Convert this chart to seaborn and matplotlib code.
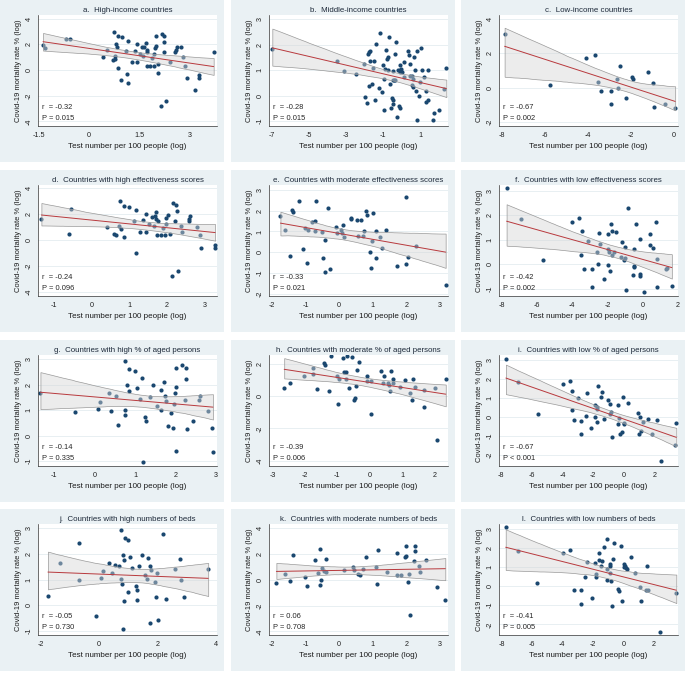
import numpy as np
import seaborn as sns
import matplotlib.pyplot as plt
from matplotlib.patches import Rectangle
from matplotlib.ticker import FormatStrFormatter

# Datos: x = pruebas por 100 personas (log), y = mortalidad % (log)
a_x = [-1.38, -1.33, -0.70, -0.56, 0.40, 0.52, 0.75, 0.72, 0.77, 0.77, 0.80, 0.84, 0.86, 0.87, 0.95,
       0.99, 1.10, 1.12, 1.17, 1.17, 1.27, 1.36, 1.43, 1.44, 1.52, 1.57, 1.62, 1.64, 1.70, 1.72, 1.74,
       1.72, 1.82, 1.89, 1.94, 1.95, 1.97, 2.00, 2.00, 2.05, 2.07, 2.14, 2.17, 2.25, 2.25, 2.25, 2.30,
       2.42, 2.57, 2.62, 2.60, 2.74, 2.79, 2.87, 2.92, 3.15, 3.27, 3.29, 3.72]
a_y = [1.95, 1.69, 2.44, 2.39, 0.99, 1.56, 2.94, 0.78, 1.09, 0.83, 2.03, 1.82, 2.65, 0.18, -0.81,
       2.55, 1.51, -0.31, 2.29, -1.04, 0.62, 1.51, 0.62, 2.00, 1.22, 1.82, 1.09, 1.82, 2.13, 1.56, 1.38,
       0.36, 0.36, 0.91, 0.36, 1.25, 1.74, 1.90, 2.70, -0.21, 0.47, -2.81, 2.81, 2.65, 2.23, 1.43, -2.42,
       0.62, 1.43, 1.82, 1.56, 1.82, 0.99, 0.34, -0.60, -1.56, -0.60, -0.39, 1.38]

b_x = [-7.00, -3.49, -3.13, -2.50, -2.03, -2.01, -1.86, -1.83, -1.77, -1.74, -1.77, -1.74, -1.59, -1.56,
       -1.50, -1.41, -1.43, -1.25, -1.16, -1.05, -1.02, -0.96, -0.98, -0.93, -0.84, -0.80, -0.75, -0.75,
       -0.69, -0.66, -0.57, -0.53, -0.48, -0.48, -0.50, -0.48, -0.44, -0.39, -0.35, -0.30, -0.26, -0.21,
       -0.15, -0.12, -0.12, -0.10, -0.08, -0.03, 0.03, 0.10, 0.12, 0.33, 0.37, 0.42, 0.42, 0.53, 0.57,
       0.59, 0.62, 0.68, 0.73, 0.78, 0.82, 0.82, 0.93, 0.98, 1.05, 1.11, 1.22, 1.29, 1.32, 1.40, 1.41,
       1.70, 1.74, 2.01, 2.28, 2.41]
b_y = [1.83, 1.34, 0.96, 0.83, 1.23, -0.05, -0.29, 1.62, 1.70, 1.75, 0.39, 1.36, 0.47, 1.08,
       1.34, 2.03, -0.16, 0.30, 2.47, 0.14, 1.19, -0.55, 0.66, 1.05, 1.79, 1.45, 1.51, 0.99,
       2.31, 0.47, -0.48, -0.10, -0.16, -0.32, 0.95, 0.60, 0.62, 0.62, 1.62, 2.12, -0.83, 0.99,
       -0.42, -0.48, 1.01, 1.19, 0.91, 1.05, 0.91, 1.31, 0.73, 1.73, 1.58, 1.23, 0.78, 0.43, 0.75,
       0.34, 0.66, 1.53, 1.01, 0.17, -0.96, 1.73, -0.03, 0.52, 1.86, 0.99, 0.73, 0.19, -0.25, -0.16, 1.01,
       -0.94, -0.70, -0.57, 0.26, 1.08]

c_x = [-7.86, -5.76, -4.07, -3.67, -3.53, -3.37, -2.94, -2.91, -2.66, -2.60, -2.52, -2.22, -1.97,
       -1.90, -1.21, -0.97, -0.94, -0.41, 0.05]
c_y = [3.11, 0.16, 1.75, 1.88, 0.35, -0.17, -0.95, -0.21, 0.49, 0.00, 1.26, -0.62, 0.62,
       0.49, 0.89, 0.25, -1.11, -0.95, -1.17]

d_x = [-1.33, -0.61, -0.55, 0.41, 0.58, 0.65, 0.73, 0.76, 0.77, 0.86, 0.86, 0.98, 1.12, 1.17, 1.17,
       1.28, 1.37, 1.44, 1.44, 1.53, 1.60, 1.65, 1.67, 1.70, 1.71, 1.72, 1.76, 1.83, 1.90, 1.95, 1.98,
       1.98, 2.01, 2.07, 2.14, 2.15, 2.24, 2.25, 2.22, 2.30, 2.37, 2.40, 2.57, 2.58, 2.60, 2.79, 2.88,
       2.90, 3.26, 3.27]
d_y = [1.64, 0.47, 2.36, 0.99, 0.42, 0.34, 1.06, 2.96, 0.81, 0.18, 2.60, 2.52, 1.45, -1.04, 2.29,
       0.57, 1.56, 0.57, 2.00, 1.19, 1.77, 1.04, 1.82, 2.13, 1.58, 0.36, 1.43, 0.36, 0.88, 0.34, 1.25,
       1.71, 1.90, 0.44, -2.81, 2.81, 2.68, 2.23, 1.45, -2.42, 1.06, 0.60, 1.45, 1.64, 1.82, 0.99, 0.36,
       -0.62, -0.62, -0.39]

e_x = [-1.75, -1.60, -1.47, -1.42, -1.37, -1.19, -1.07, -1.01, -0.96, -0.94, -0.81, -0.72, -0.69, -0.71,
       -0.50, -0.49, -0.41, -0.41, -0.33, -0.26, -0.09, -0.08, 0.06, 0.07, 0.12, 0.13, 0.34, 0.36, 0.52,
       0.57, 0.66, 0.70, 0.73, 0.79, 0.84, 0.92, 0.95, 0.97, 1.02, 1.10, 1.11, 1.22, 1.27, 1.38, 1.71,
       1.98, 2.00, 2.05, 2.28, 3.17]
e_y = [1.73, 1.05, -0.16, 2.02, 1.94, 2.47, 0.15, 1.18, -0.53, 1.05, 1.45, 1.50, 2.45, 1.02,
       0.97, -0.29, 0.61, -0.94, 2.13, -0.81, 1.21, 0.94, 1.08, 0.92, 1.32, 0.73, 1.66, 1.58, 1.56,
       0.79, 1.53, 0.79, 1.02, 1.98, 1.77, 0.00, -0.77, 0.53, 1.89, 1.02, -0.29, 0.73, 0.21, 1.05, -0.68,
       -0.56, 2.66, -0.21, 0.29, -1.58]

f_x = [-7.71, -6.91, -5.66, -4.02, -3.60, -3.45, -3.47, -3.31, -3.11, -2.88, -2.88, -2.61, -2.54, -2.46,
       -2.41, -2.18, -1.99, -1.99, -1.95, -1.89, -1.84, -1.80, -1.74, -1.72, -1.61, -1.52, -1.23, -1.19,
       -1.04, -1.00, -1.00, -0.93, -0.81, -0.57, -0.51, -0.47, -0.47, -0.36, -0.13, -0.13, -0.13, 0.06,
       0.44, 0.44, 0.59, 0.78, 0.80, 0.81, 1.33, 1.38, 1.65]
f_y = [3.09, 1.83, 0.16, 1.74, 1.90, 1.35, 0.37, -0.18, 0.96, -0.21, -0.93, 0.48, 0.01, 1.26,
       0.82, -0.62, 1.24, -0.04, 0.63, 0.48, -0.29, 1.65, 0.38, 1.37, 0.48, 1.33, 0.30, 0.91,
       0.15, 0.69, 0.25, -1.07, 2.31, -0.45, -0.07, -0.11, 0.63, 1.62, 1.03, -0.41, -0.48, -1.15,
       1.25, 0.78, 0.67, 1.74, -0.93, 0.19, -0.21, -0.14, -0.91]

g_x = [-1.33, -0.48, 0.08, 0.14, 0.36, 0.41, 0.54, 0.58, 0.75, 0.75, 0.76, 0.80, 0.85, 0.86, 0.99,
       1.04, 1.12, 1.18, 1.19, 1.24, 1.28, 1.37, 1.44, 1.53, 1.63, 1.65, 1.71, 1.73, 1.76, 1.82, 1.88,
       1.94, 1.97, 1.98, 2.01, 2.01, 2.01, 2.16, 2.25, 2.26, 2.24, 2.28, 2.42, 2.58, 2.60, 2.79, 2.89,
       2.92]
g_y = [1.66, 0.92, 1.05, 1.31, 1.68, 0.97, 1.54, 0.42, 2.93, 1.01, 0.81, 1.98, 1.74, 2.62, 2.53,
       1.86, 1.44, 2.28, -1.05, 0.71, 0.58, 1.52, 1.99, 1.18, 1.02, 1.81, 2.09, 1.54, 1.35, 0.37, 0.89,
       0.30, 1.24, 1.68, 1.90, -0.59, 2.67, 2.77, 2.64, 2.23, 1.41, 0.25, 0.59, 1.41, 1.57, 0.97, 0.31,
       -0.63]

h_x = [-2.64, -2.46, -2.02, -1.74, -1.74, -1.62, -1.41, -1.38, -1.25, -1.19, -1.02, -0.97, -0.95, -0.82,
       -0.80, -0.72, -0.71, -0.72, -0.64, -0.56, -0.49, -0.46, -0.42, -0.38, -0.34, -0.09, -0.09, 0.04,
       0.05, 0.34, 0.41, 0.43, 0.58, 0.60, 0.63, 0.65, 0.71, 0.72, 0.95, 1.08, 1.25, 1.30, 1.35, 1.41,
       1.68, 1.69, 2.03, 2.08, 2.35]
h_y = [0.48, 0.83, 1.23, 1.73, 1.38, 0.46, 2.02, 1.94, 0.31, 2.46, 1.23, -0.50, 1.08, 2.33,
       1.46, 1.46, 2.46, 1.04, 0.50, 2.40, -0.27, -0.13, 0.63, 1.63, 2.13, 0.96, 1.21, 0.92,
       -1.13, 1.56, 0.83, 1.25, 0.83, 0.69, 0.33, 1.54, 0.79, 1.08, 0.54, 1.00, 0.21, -0.23, 1.06, 0.58,
       0.35, -0.67, 0.48, -2.75, 1.08]

i_x = [-7.70, -6.89, -5.63, -3.96, -3.52, -3.37, -3.37, -3.22, -3.02, -2.78, -2.80, -2.46, -2.39, -2.11,
       -1.89, -1.89, -1.78, -1.76, -1.72, -1.67, -1.52, -1.41, -1.30, -1.02, -0.87, -0.91, -0.85, -0.78,
       -0.41, -0.35, -0.33, -0.26, -0.11, -0.02, 0.02, 0.02, 0.28, 0.96, 0.98, 1.04, 1.11, 1.26, 1.57,
       1.83, 2.20, 2.41, 3.33, 3.43]
i_y = [3.07, 1.84, 0.18, 1.75, 1.88, 1.35, 0.37, -0.18, 0.98, -0.19, -0.89, 0.05, 1.28, -0.58,
       0.63, -0.02, 0.51, -0.26, 0.42, 1.65, 1.07, 1.33, -0.12, 0.91, 0.68, 0.18, 0.25, -1.04,
       -0.40, 0.65, -0.05, -0.88, -0.79, 1.04, -0.40, -0.32, 0.74, 0.19, -0.88, 0.00, -0.75, -0.26, -0.12,
       -0.88, -0.18, -2.33, -1.51, -0.33]

j_x = [-1.75, -1.33, -0.69, -0.70, -0.11, 0.07, 0.14, 0.34, 0.45, 0.55, 0.69, 0.76, 0.76, 0.77, 0.80,
       0.83, 0.85, 0.87, 0.80, 0.97, 0.99, 1.05, 1.13, 1.24, 1.28, 1.28, 1.37, 1.45, 1.55, 1.64, 1.66,
       1.72, 1.74, 1.76, 1.90, 1.94, 1.98, 2.01, 2.17, 2.29, 2.57, 2.74, 2.80, 2.89, 3.72]
j_y = [0.37, 1.66, 2.44, 0.99, -0.41, 1.06, 1.32, 1.66, 1.24, 1.56, 1.54, 2.93, 1.01, 0.83, 1.97,
       0.17, 1.75, 2.62, -0.94, 0.52, 2.52, 1.86, 1.45, 0.75, 0.58, 0.19, 1.51, 1.97, 1.19, 1.01, 1.83,
       1.54, -0.68, 1.37, 0.89, 0.32, 1.24, -0.58, 2.77, 0.26, 1.42, 1.78, 0.98, 0.32, 1.39]

k_x = [-1.87, -1.62, -1.45, -1.37, -1.03, -0.96, -0.72, -0.63, -0.58, -0.56, -0.53, -0.50, -0.46, -0.40,
       -0.38, 0.14, 0.42, 0.44, 0.57, 0.63, 0.71, 0.81, 1.11, 1.13, 1.17, 1.43, 1.71, 1.71, 1.83, 1.97,
       1.99, 2.00, 2.05, 2.07, 2.12, 2.23, 2.25, 2.26, 2.38, 2.41, 2.59, 2.92, 3.16]
k_y = [-0.26, 0.46, -0.13, 1.92, 0.18, -0.51, 1.49, 0.49, -0.44, 2.36, -0.05, 0.92, 0.64, 0.59,
       1.62, 0.72, 0.95, 0.72, 0.44, 0.33, 0.79, 1.72, 0.97, -0.31, 2.26, 0.56, 2.08, 0.36, 0.36, 1.72,
       1.87, 2.64, -0.18, 0.46, -2.74, 1.41, 2.64, 2.21, 1.08, 0.59, 1.56, -0.59, -1.56]

l_x = [-7.72, -6.94, -5.65, -3.96, -3.52, -3.24, -2.78, -2.78, -2.49, -2.36, -2.06, -1.88, -1.82, -1.77,
       -1.60, -1.60, -1.44, -1.38, -1.27, -1.09, -1.05, -1.05, -0.90, -0.85, -0.85, -0.81, -0.77, -0.68,
       -0.63, -0.33, -0.31, -0.18, -0.09, 0.02, 0.07, 0.09, 0.15, 0.22, 0.50, 0.79, 1.09, 1.14, 1.51,
       1.55, 1.62, 2.38, 3.48]
l_y = [3.09, 1.82, 0.18, 1.73, 1.89, -0.18, -0.21, -0.92, 0.48, 1.27, -0.62, 1.23, 0.62, 0.48,
       1.73, 1.36, 1.08, 1.32, 2.03, 0.32, 2.47, 0.88, 1.18, 1.06, 0.71, 0.26, -1.06, 1.45,
       2.29, -0.14, -0.26, 2.12, -0.79, 1.01, 1.18, 1.04, 0.93, 0.88, 1.55, 0.67, -0.04, -0.76, -0.21,
       1.06, -0.18, -2.38, -0.35]

titles = ["a.  High-income countries", "b.  Middle-income countries", "c.  Low-income countries",
          "d.  Countries with high effectiveness scores", "e.  Countries with moderate effectiveness scores",
          "f.  Countries with low effectiveness scores",
          "g.  Countries with high % of aged persons", "h.  Countries with moderate % of aged persons",
          "i.  Countries with low % of aged persons",
          "j.  Countries with high numbers of beds", "k.  Countries with moderate numbers of beds",
          "l.  Countries with low numbers of beds"]
r_labels = ["-0.32", "-0.28", "-0.67", "-0.24", "-0.33", "-0.42", "-0.14", "-0.39", "-0.67", "-0.05", "0.06", "-0.41"]
p_labels = ["= 0.015", "= 0.015", "= 0.002", "= 0.096", "= 0.021", "= 0.002", "= 0.335", "= 0.006",
            "< 0.001", "= 0.730", "= 0.708", "= 0.005"]
xticks = [[-1.5, 0, 1.5, 3], [-7, -5, -3, -1, 1], [-8, -6, -4, -2, 0],
          [-1, 0, 1, 2, 3], [-2, -1, 0, 1, 2, 3], [-8, -6, -4, -2, 0, 2],
          [-1, 0, 1, 2, 3], [-3, -2, -1, 0, 1, 2], [-8, -6, -4, -2, 0, 2],
          [-2, 0, 2, 4], [-2, -1, 0, 1, 2, 3], [-8, -6, -4, -2, 0, 2]]
yticks = [[-4, -2, 0, 2, 4], [-1, 0, 1, 2, 3], [-2, 0, 2, 4],
          [-4, -2, 0, 2, 4], [-2, -1, 0, 1, 2, 3], [-1, 0, 1, 2, 3],
          [-1, 0, 1, 2, 3], [-4, -2, 0, 2], [-2, -1, 0, 1, 2, 3],
          [-1, 0, 1, 2, 3], [-4, -2, 0, 2, 4], [-2, -1, 0, 1, 2, 3]]

xs = [a_x, b_x, c_x, d_x, e_x, f_x, g_x, h_x, i_x, j_x, k_x, l_x]
ys = [a_y, b_y, c_y, d_y, e_y, f_y, g_y, h_y, i_y, j_y, k_y, l_y]

# límites de ejes (layout)
xlims = [(-1.53, 3.82), (-7.18, 2.5), (-8.12, 0.18), (-1.42, 3.32), (-2.09, 3.24), (-8.14, 2.0),
         (-1.39, 3.02), (-3.11, 2.42), (-8.15, 3.54), (-2.09, 4.02), (-2.09, 3.24), (-8.16, 3.59)]
ylims = [(-4.36, 4.3), (-1.19, 3.16), (-2.23, 4.23), (-4.34, 4.23), (-2.10, 3.23), (-1.30, 3.23),
         (-1.20, 3.17), (-4.33, 2.54), (-2.60, 3.28), (-1.16, 3.16), (-4.28, 4.31), (-2.56, 3.26)]

sns.set_style("white")
plt.rcParams['font.family'] = ['Liberation Sans', 'DejaVu Sans']
plt.rcParams['axes.unicode_minus'] = False

W, H = 685, 674
fig = plt.figure(figsize=(W / 100, H / 100), dpi=100)
col_x = [0, 231, 461]
row_y = [0, 170, 340, 509]
pw, ph = 224, 162

navy = '#1a476f'
for k in range(12):
    px, py = col_x[k % 3], row_y[k // 3]
    fig.add_artist(Rectangle((px / W, 1 - (py + ph) / H), pw / W, ph / H,
                             transform=fig.transFigure, facecolor='#eaf1f4', edgecolor='none', zorder=0))
    ax = fig.add_axes([(px + 38) / W, 1 - (py + 126) / H, 179 / W, 111 / H])
    ax.set_facecolor('white')
    x = np.array(xs[k])
    y = np.array(ys[k])

    sns.scatterplot(x=x, y=y, ax=ax, color=navy, s=9, linewidth=0, zorder=2)
    sns.regplot(x=x, y=y, ax=ax, scatter=False, ci=95, seed=0, n_boot=2000, color='#a0a0a0',
                line_kws=dict(color='#b8393d', lw=0.7, zorder=4))
    band = ax.collections[-1]
    band.set_alpha(None)
    band.set_facecolor((0.84, 0.84, 0.84, 0.45))
    band.set_edgecolor((0.6, 0.6, 0.6, 1.0))
    band.set_linewidth(0.5)
    band.set_zorder(3)

    ax.set_xlim(xlims[k])
    ax.set_ylim(ylims[k])
    ax.set_xticks(xticks[k])
    ax.set_yticks(yticks[k])
    ax.xaxis.set_major_formatter(FormatStrFormatter('%g'))
    ax.yaxis.set_major_formatter(FormatStrFormatter('%g'))
    ax.tick_params(axis='both', labelsize=5.2, length=2.5, width=0.5, pad=1.5, colors='#222222')
    for lbl in ax.get_yticklabels():
        lbl.set_rotation(90)
        lbl.set_va('center')
    ax.yaxis.grid(True, color='#e4ecf0', lw=0.6)
    ax.set_axisbelow(True)
    for s in ['top', 'right']:
        ax.spines[s].set_visible(False)
    for s in ['left', 'bottom']:
        ax.spines[s].set_color('#333333')
        ax.spines[s].set_linewidth(0.5)

    ax.set_title(titles[k], fontsize=5.7, pad=2, color='#1e2a3a')
    ax.set_xlabel("Test number per 100 people (log)", fontsize=5.8, labelpad=3, color='#1a1a1a')
    ax.set_ylabel("Covid-19 mortality rate % (log)", fontsize=5.4, labelpad=2.5, color='#1a1a1a')
    ax.text(0.025, 0.165, "r  = " + r_labels[k], transform=ax.transAxes, fontsize=5.4, va='center')
    ax.text(0.025, 0.07, "P " + p_labels[k], transform=ax.transAxes, fontsize=5.4, va='center')

fig.savefig("out.png", dpi=100, facecolor='white')
